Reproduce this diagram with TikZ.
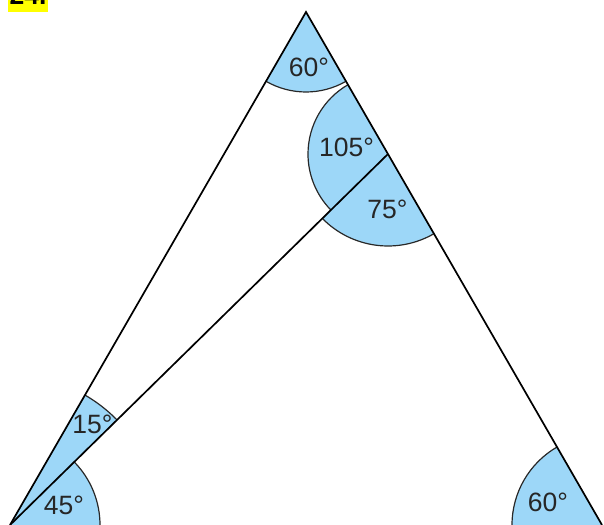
\documentclass[tikz,border=0pt]{standalone}
\usepackage{fontspec}
\setmainfont{Liberation Sans}
\usetikzlibrary{angles}
\definecolor{angfill}{RGB}{157,215,248}
\definecolor{arcline}{RGB}{40,40,40}
\definecolor{hl}{RGB}{255,255,0}
\begin{document}
\begin{tikzpicture}[x=1pt,y=1pt,
  ang/.style={draw=arcline, line width=1.2pt, fill=angfill},
  side/.style={line width=1.7pt, draw=black, line join=miter},
  lbl/.style={inner sep=0pt, text=black!85, font=\fontsize{26.5}{30}\selectfont}]
\useasboundingbox (0,0) rectangle (604,524);
\coordinate (A) at (306,512);
\coordinate (B) at (10,-1);
\coordinate (C) at (602,-1);
\coordinate (D) at (388,370);
% highlight and problem number
\fill[hl] (8,512.3) rectangle (48,530);
\node[anchor=base west, inner sep=0pt, font=\fontsize{26.5}{30}\selectfont\bfseries] (num) at (9.5,519) {24.};
% angle sectors
\pic[ang, angle radius=80pt] {angle = B--A--C};
\pic[ang, angle radius=80pt] {angle = A--D--B};
\pic[ang, angle radius=92pt] {angle = B--D--C};
\pic[ang, angle radius=150pt] {angle = D--B--A};
\pic[ang, angle radius=90pt] {angle = C--B--D};
\pic[ang, angle radius=90pt] {angle = A--C--B};
% triangle sides (the base lies below the visible area) and cevian
\draw[side] (B) -- (A) -- (C);
\draw[side] (B) -- (D);
% labels
\node[lbl] (lA) at (309,457) {60°};
\node[lbl] (lD1) at (346.5,377) {105°};
\node[lbl] (lD2) at (387.5,315) {75°};
\node[lbl] (lB1) at (92.5,100) {15°};
\node[lbl] (lB2) at (64,19) {45°};
\node[lbl] (lC) at (548,22) {60°};
\end{tikzpicture}
\end{document}
